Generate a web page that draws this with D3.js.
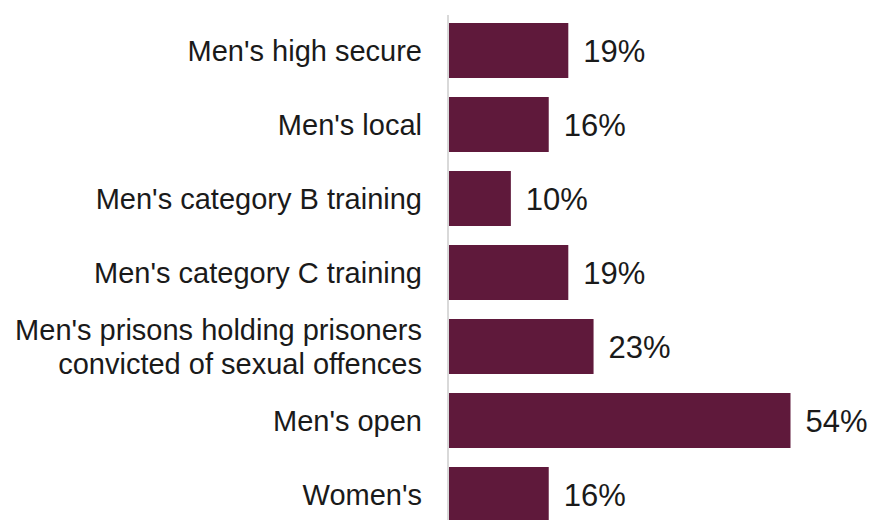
<!DOCTYPE html>
<html>
  <head>
    <meta charset="utf-8">
    <script src="https://cdn.jsdelivr.net/npm/d3@7"></script>
    <style type="text/css">

html, body {
  margin: 0;
  padding: 0;
  background: #fff;
}

svg text {
  font-family: "Liberation Sans", Arial, sans-serif;
  font-size: 29px;
  fill: #1a1a1a;
}

svg text.value {
  font-size: 31px;
}

    </style>
  </head>
  <body>
    <svg id="chart" width="870" height="520"></svg>
    <script type="text/javascript">

// category labels, one entry per line of the label
var categories = [
  ["Men's high secure"],
  ["Men's local"],
  ["Men's category B training"],
  ["Men's category C training"],
  ["Men's prisons holding prisoners", "convicted of sexual offences"],
  ["Men's open"],
  ["Women's"]
];

// share of prisoners, % (label shows the rounded value)
var values = [18.9, 15.8, 9.8, 18.9, 22.9, 54.1, 15.8];

var svg = d3.select("#chart");

var x = d3.scaleLinear()
    .domain([0, 54.1])
    .range([449, 790.5]);

var y = d3.scaleBand()
    .domain(d3.range(categories.length))
    .range([13.5, 531.5])
    .paddingInner(0.257)
    .paddingOuter(0.1285);

// bars
svg.selectAll("rect.bar")
    .data(values)
  .enter().append("rect")
    .attr("class", "bar")
    .attr("x", x(0))
    .attr("y", function(d, i) { return y(i); })
    .attr("width", function(d) { return x(d) - x(0); })
    .attr("height", y.bandwidth())
    .attr("fill", "#5f193b");

// vertical axis line
svg.append("line")
    .attr("x1", 448).attr("x2", 448)
    .attr("y1", 15).attr("y2", 520)
    .attr("stroke", "#d9d9d9")
    .attr("stroke-width", 2);

// value labels
svg.selectAll("text.value")
    .data(values)
  .enter().append("text")
    .attr("class", "value")
    .attr("x", function(d) { return x(d) + 15; })
    .attr("y", function(d, i) { return y(i) + y.bandwidth() / 2; })
    .attr("dy", "0.36em")
    .text(function(d) { return Math.round(d) + "%"; });

// category labels
var cat = svg.selectAll("text.cat")
    .data(categories)
  .enter().append("text")
    .attr("class", "cat")
    .attr("text-anchor", "end")
    .attr("y", function(d, i) { return y(i) + y.bandwidth() / 2; });

cat.selectAll("tspan")
    .data(function(d) { return d.map(function(s, j) { return {s: s, j: j, n: d.length}; }); })
  .enter().append("tspan")
    .attr("x", 422)
    .attr("dy", function(t) {
      var first = 0.36 - (t.n - 1) * 1.2 / 2;
      return (t.j === 0 ? first : 1.2) + "em";
    })
    .text(function(t) { return t.s; });

    </script>
  </body>
</html>
